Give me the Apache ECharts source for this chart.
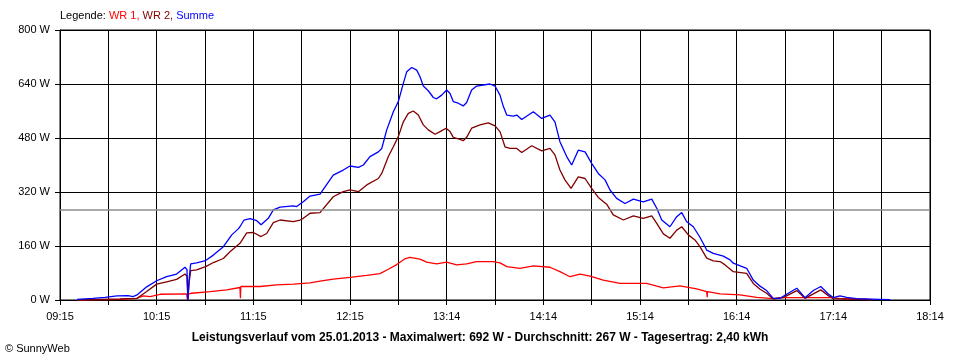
<!DOCTYPE html>
<html>
<head>
<meta charset="utf-8">
<script src="https://cdn.jsdelivr.net/npm/echarts@6/dist/echarts.min.js"></script>
<style>
html,body{margin:0;padding:0;background:#fff;}
#c{width:960px;height:360px;}
</style>
</head>
<body>
<div id="c"></div>
<script>
// x values: minutes after 09:15
const xTickLabels = ['09:15','10:15','11:15','12:15','13:14','14:14','15:14','16:14','17:14','18:14'];
const yTickValues = [0,160,320,480,640,800];
const averageW = 267;
const titleText = 'Leistungsverlauf vom 25.01.2013 - Maximalwert: 692 W - Durchschnitt: 267 W - Tagesertrag: 2,40 kWh';

// Summe (blue)
const sumMin = [10.6,20.5,27.9,35.4,42.2,45.3,47.8,53.8,60.0,66.2,72.4,77.6,78.8,79.4,80.1,81.1,84.8,90.4,95.2,101.4,106.6,110.5,111.7,114.2,117.9,122.1,124.8,129.3,132.4,136.6,144.8,146.9,151.0,155.2,161.4,169.6,175.8,180.0,185.2,188.3,192.4,197.6,199.7,202.8,206.9,210.0,213.1,215.2,218.3,221.4,223.4,225.5,228.6,231.7,233.8,236.9,240.0,242.1,244.1,247.2,250.3,252.4,255.5,258.6,262.7,266.9,270.0,273.1,275.2,277.3,281.4,283.5,286.6,293.8,299.0,304.1,307.2,310.3,314.5,317.6,321.7,325.9,330.0,334.1,338.3,341.4,345.5,350.7,355.9,362.0,367.3,370.4,373.5,378.6,382.8,385.9,389.0,393.1,397.2,401.4,405.5,411.7,415.9,417.9,426.2,430.3,434.5,438.6,442.7,446.9,451.0,457.3,462.4,467.6,472.2,476.9,480.0,484.1,488.3,494.5,509.0,515.2];
const sumW   = [2,5,8,12,13,10,15,39,57,69,77,97,90,0,60,107,110,117,133,158,193,210,217,237,241,235,223,242,267,275,279,277,291,308,314,370,385,397,393,400,425,439,449,504,558,588,642,676,689,681,662,634,620,600,596,607,622,612,588,583,575,585,622,634,637,640,634,607,573,548,545,548,535,558,538,548,528,469,425,400,444,439,405,375,356,326,301,286,299,291,299,272,237,217,247,259,232,217,186,148,138,130,119,109,94,59,41,28,5,5,17,35,7,28,40,18,7,12,8,4,2,1];

// WR 2 (dark red)
const wr2Min = [10.6,24.8,37.2,47.8,53.8,60.0,66.2,72.4,77.6,78.8,79.4,80.1,81.1,84.8,90.4,95.2,101.4,105.5,111.7,115.9,120.0,124.8,128.3,132.4,136.6,144.8,149.0,151.0,155.2,161.4,169.6,175.8,180.0,185.2,190.4,197.6,199.7,203.8,206.9,210.0,213.1,216.2,219.3,222.4,225.5,228.6,232.8,235.9,239.6,242.1,244.1,248.3,250.3,252.4,255.5,260.7,265.8,270.0,273.1,276.2,279.3,283.5,286.6,292.8,299.0,304.1,307.2,310.3,313.4,317.2,321.7,325.9,330.0,334.1,339.3,343.4,349.7,355.9,362.0,367.3,370.4,374.5,378.6,382.8,385.9,390.0,394.1,397.2,401.4,405.5,409.7,412.8,417.9,426.2,430.3,434.5,438.6,442.7,448.9,457.3,462.4,467.6,472.2,476.9,480.0,488.3,500.7,504.0];
const wr2W   = [0,2,3,5,25,47,54,61,77,70,3,50,87,89,99,111,123,143,168,199,200,188,197,229,237,232,237,242,257,259,306,321,326,321,341,360,375,425,454,484,528,553,560,548,519,504,491,499,509,499,482,476,472,482,509,519,525,516,499,454,449,449,437,457,442,449,430,385,356,331,365,360,331,304,284,252,237,249,242,249,227,196,183,207,217,193,178,158,124,116,114,104,84,79,49,32,20,3,7,28,5,18,30,13,4,3,2,0];

// WR 1 (red)
const wr1Min = [10.6,37.2,47.6,51.7,55.9,62.1,78.6,79.1,79.8,81.7,93.1,103.5,111.7,112.0,112.2,124.1,134.5,144.8,155.2,161.4,169.6,180.0,190.4,198.6,203.8,209.0,214.1,217.2,223.4,227.6,233.8,240.0,246.2,252.4,258.6,268.9,273.1,277.3,285.5,293.8,304.1,310.3,316.6,322.8,329.0,337.2,347.6,364.1,374.5,384.8,395.2,401.4,401.7,401.9,409.7,422.1,432.4,442.7,446.9,480.0,484.1,490.3,502.8];
const wr1W   = [0,2,5,12,10,17,18,0,18,20,25,30,37,5,40,40,45,47,51,56,62,67,73,78,91,105,122,126,121,112,107,112,104,107,114,114,110,99,94,101,97,84,69,77,71,59,49,49,36,42,33,25,8,25,18,15,8,4,7,7,4,3,1];

function pairs(xs, ys){ return xs.map((x,i)=>[x, ys[i]]); }

const FONT = 'Liberation Sans, Arial, sans-serif';
const chart = echarts.init(document.getElementById('c'), null, {renderer:'canvas'});
chart.setOption({
  backgroundColor:'#ffffff',
  animation:false,
  grid:{left:60,right:30,top:30,bottom:60,show:true,borderColor:'#000',borderWidth:1,backgroundColor:'transparent'},
  xAxis:{
    type:'value',min:0,max:540,interval:30,
    axisLine:{show:true,onZero:false,lineStyle:{color:'#000',width:1}},
    axisTick:{show:true,length:5,lineStyle:{color:'#000'}},
    splitLine:{show:true,lineStyle:{color:'#000',width:1}},
    axisLabel:{show:true,margin:11,color:'#000',fontFamily:FONT,fontSize:11,
      formatter:v=> (v%60===0 ? xTickLabels[v/60] : '')}
  },
  yAxis:{
    type:'value',min:0,max:800,interval:160,
    axisLine:{show:true,lineStyle:{color:'#000',width:1}},
    axisTick:{show:true,length:5,lineStyle:{color:'#000'}},
    splitLine:{show:true,lineStyle:{color:'#000',width:1}},
    axisLabel:{show:true,margin:10,color:'#000',fontFamily:FONT,fontSize:11,
      formatter:v=> yTickValues.includes(v) ? v+' W' : ''}
  },
  title:{text:titleText,left:'center',top:327,
    textStyle:{fontFamily:FONT,fontSize:12,fontWeight:'bold',color:'#000'}},
  graphic:[
    {type:'text',left:60,top:10,style:{
      text:'{k|Legende: }{a|WR 1, }{b|WR 2, }{c|Summe}',
      rich:{k:{fill:'#000',fontFamily:FONT,fontSize:11},
            a:{fill:'#ff0000',fontFamily:FONT,fontSize:11},
            b:{fill:'#800000',fontFamily:FONT,fontSize:11},
            c:{fill:'#0000ff',fontFamily:FONT,fontSize:11}}}},
    {type:'text',left:5,top:343,style:{text:'© SunnyWeb',fill:'#000',fontFamily:FONT,fontSize:11}}
  ],
  series:[
    {name:'WR 1',type:'line',data:pairs(wr1Min,wr1W),showSymbol:false,symbol:'none',
      lineStyle:{color:'#ff0000',width:1.3},itemStyle:{color:'#ff0000'},
      markLine:{silent:true,symbol:'none',label:{show:false},
        lineStyle:{color:'#8c8c8c',width:1.5,type:'solid'},data:[{yAxis:averageW}]}},
    {name:'WR 2',type:'line',data:pairs(wr2Min,wr2W),showSymbol:false,symbol:'none',
      lineStyle:{color:'#800000',width:1.3},itemStyle:{color:'#800000'}},
    {name:'Summe',type:'line',data:pairs(sumMin,sumW),showSymbol:false,symbol:'none',
      lineStyle:{color:'#0000ff',width:1.3},itemStyle:{color:'#0000ff'}}
  ]
});
</script>
</body>
</html>
